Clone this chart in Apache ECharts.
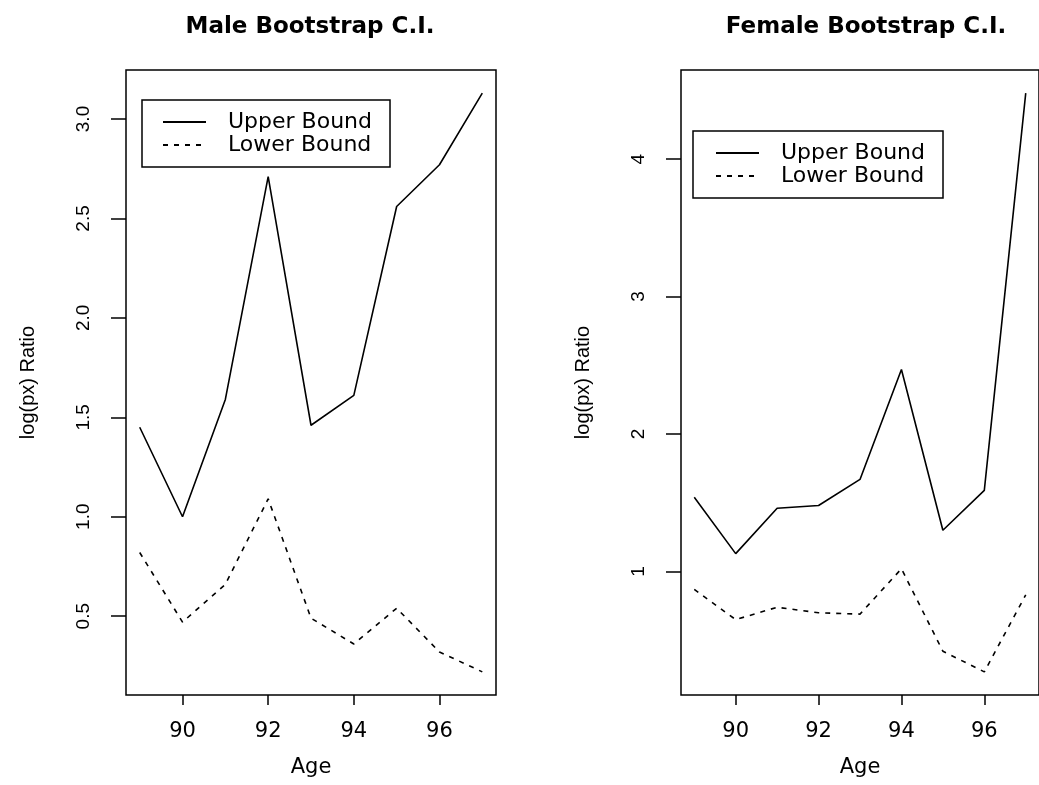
<!DOCTYPE html>
<html><head><meta charset="utf-8">
<script src="https://cdn.jsdelivr.net/npm/echarts@6/dist/echarts.min.js"></script>
<style>html,body{margin:0;padding:0;background:#fff}#c{width:1039px;height:785px}</style>
</head><body><div id="c"></div>
<script>
const ages = [89, 90, 91, 92, 93, 94, 95, 96, 97];
const maleUpper = [1.45, 1.00, 1.59, 2.71, 1.46, 1.61, 2.56, 2.77, 3.13];
const maleLower = [0.82, 0.47, 0.66, 1.09, 0.49, 0.36, 0.54, 0.32, 0.22];
const femaleUpper = [1.54, 1.13, 1.46, 1.48, 1.67, 2.47, 1.30, 1.59, 4.48];
const femaleLower = [0.87, 0.65, 0.74, 0.70, 0.69, 1.02, 0.42, 0.27, 0.83];
const maleYTicks = [0.5, 1.0, 1.5, 2.0, 2.5, 3.0];
const femaleYTicks = [1, 2, 3, 4];
const ageTicks = [90, 92, 94, 96];
const titles = ['Male Bootstrap C.I.', 'Female Bootstrap C.I.'];
const seriesNames = ['Upper Bound', 'Lower Bound'];
const xTitle = 'Age';
const yTitle = 'log(px) Ratio';

// R-style axis range: data range extended by 4% on each side
function rng(arrs) {
  const all = [].concat(...arrs);
  const lo = Math.min(...all), hi = Math.max(...all);
  const p = (hi - lo) * 0.04;
  return [lo - p, hi + p];
}
const xr = rng([ages]);
const ymr = rng([maleUpper, maleLower]);
const yfr = rng([femaleUpper, femaleLower]);

const H = 'DejaVu Sans', V = 'Liberation Sans';
const grids = [
  { left: 126, top: 70, width: 370, height: 625 },
  { left: 681, top: 70, width: 369, height: 625 }
];

function xAxis(gi) {
  return {
    type: 'value', gridIndex: gi, min: xr[0], max: xr[1],
    axisLine: { show: false }, splitLine: { show: false },
    axisTick: { customValues: ageTicks, length: 10, lineStyle: { color: '#000', width: 1.5 } },
    axisLabel: { customValues: ageTicks, margin: 26, fontSize: 21, fontFamily: H, color: '#000' },
    name: xTitle, nameLocation: 'middle', nameGap: 62,
    nameTextStyle: { fontSize: 21, fontFamily: H, color: '#000' }
  };
}
function yAxis(gi, r, ticks, dec) {
  return {
    type: 'value', gridIndex: gi, min: r[0], max: r[1],
    axisLine: { show: false }, splitLine: { show: false },
    axisTick: { customValues: ticks, length: 15, lineStyle: { color: '#000', width: 1.5 } },
    axisLabel: { customValues: ticks, rotate: 90, margin: 33, fontSize: 19, fontFamily: V, color: '#000',
      formatter: v => Number(v).toFixed(dec) },
    name: yTitle, nameLocation: 'middle', nameGap: 88, nameRotate: 90,
    nameTextStyle: { fontSize: 20, fontFamily: V, color: '#000' }
  };
}
function line(name, xs, ys, gi, dashed) {
  return {
    type: 'line', name: name, xAxisIndex: gi, yAxisIndex: gi,
    data: xs.map((x, i) => [x, ys[i]]), symbol: 'none', showSymbol: false,
    lineStyle: { color: '#000', width: 1.6, type: dashed ? [5, 6] : 'solid' },
    itemStyle: { color: '#000' }, silent: true
  };
}
function legend(left, top, padL) {
  return {
    data: seriesNames, orient: 'vertical', left: left, top: top,
    padding: [11, 18, 11, padL], itemGap: 1, itemWidth: 43, itemHeight: 14,
    borderColor: '#000', borderWidth: 1.5, selectedMode: false,
    itemStyle: { opacity: 0, borderWidth: 0 },
    textStyle: { fontSize: 22, fontFamily: H, color: '#000', padding: [0, 0, 0, 17] }
  };
}

const chart = echarts.init(document.getElementById('c'), null, { renderer: 'canvas' });
chart.setOption({
  animation: false,
  backgroundColor: '#fff',
  title: [
    { text: titles[0], left: 305, top: 11, textAlign: 'center',
      textStyle: { fontFamily: H, fontWeight: 'bold', fontSize: 23, color: '#000' } },
    { text: titles[1], left: 861, top: 11, textAlign: 'center',
      textStyle: { fontFamily: H, fontWeight: 'bold', fontSize: 23, color: '#000' } }
  ],
  grid: grids.map(g => Object.assign({ show: true, borderColor: '#000', borderWidth: 1.5, backgroundColor: 'transparent' }, g)),
  xAxis: [xAxis(0), xAxis(1)],
  yAxis: [yAxis(0, ymr, maleYTicks, 1), yAxis(1, yfr, femaleYTicks, 0)],
  legend: [legend(142, 100, 20), legend(693, 131, 22)],
  series: [
    line(seriesNames[0], ages, maleUpper, 0, false),
    line(seriesNames[1], ages, maleLower, 0, true),
    line(seriesNames[0], ages, femaleUpper, 1, false),
    line(seriesNames[1], ages, femaleLower, 1, true)
  ]
});
</script></body></html>
